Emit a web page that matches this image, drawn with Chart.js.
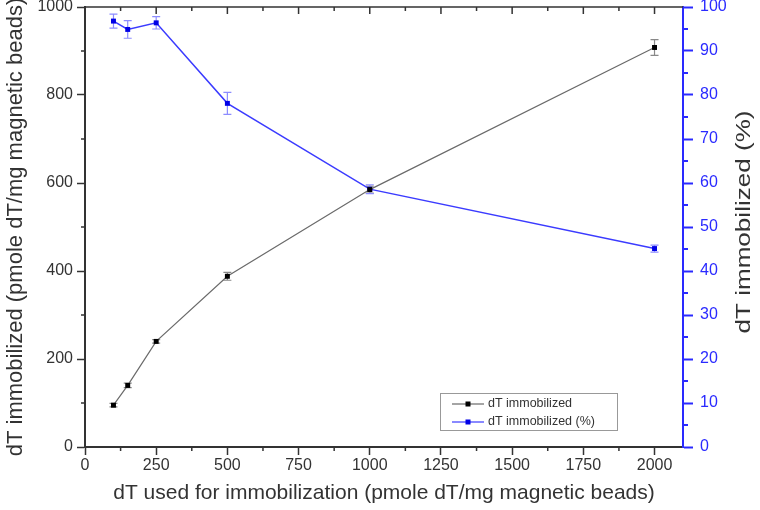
<!DOCTYPE html>
<html>
<head>
<meta charset="utf-8">
<script src="https://cdn.jsdelivr.net/npm/chart.js@4"></script>
<style>
  html, body { margin: 0; padding: 0; background: #fff; }
  #wrap { width: 760px; height: 510px; }
</style>
</head>
<body>
<div id="wrap"><canvas id="chart" width="760" height="510"></canvas></div>
<script>
// data
const doseUsed = [100, 150, 250, 500, 1000, 2000];
const amountImmobilized = [95, 140, 240, 388, 585, 908];
const amountErr = [4, 5, 4, 9, 8, 18];
const percentImmobilized = [96.8, 94.9, 96.4, 78.1, 58.6, 45.1];
const percentErr = [1.6, 2.0, 1.4, 2.5, 1.0, 0.8];

const xTicks = [0, 250, 500, 750, 1000, 1250, 1500, 1750, 2000];
const yTicks = [0, 200, 400, 600, 800, 1000];
const y1Ticks = [0, 10, 20, 30, 40, 50, 60, 70, 80, 90, 100];

const xTitle = 'dT used for immobilization (pmole dT/mg magnetic beads)';
const yTitle = 'dT immobilized (pmole dT/mg magnetic beads)';
const y1Title = 'dT immobilized (%)';
const seriesNames = ['dT immobilized', 'dT immobilized (%)'];

const FONT = "'Liberation Sans', Arial, sans-serif";
const BLUE = '#2a2aff';
const AXIS = '#333';

const toPoints = (xs, ys) => xs.map((x, i) => ({ x: x, y: ys[i] }));
const setTicks = vals => axis => { axis.ticks = vals.map(v => ({ value: v })); };
const plain = v => String(v);
const fitY = w => axis => {
    axis.width = w;
    axis.paddingTop = 0;
    axis.paddingBottom = 0;
};

// error bars, minor ticks, top frame, right title, inside legend
const extras = {
    id: 'extras',
    beforeDatasetsDraw(chart) {
        const ctx = chart.ctx;
        chart.data.datasets.forEach(ds => {
            if (!ds.errors) return;
            const xs = chart.scales.x;
            const ys = chart.scales[ds.yAxisID];
            ctx.save();
            ctx.strokeStyle = ds.errColor;
            ctx.lineWidth = 1.2;
            ds.data.forEach((p, i) => {
                const px = xs.getPixelForValue(p.x);
                const top = ys.getPixelForValue(p.y + ds.errors[i]);
                const bot = ys.getPixelForValue(p.y - ds.errors[i]);
                ctx.beginPath();
                ctx.moveTo(px, top); ctx.lineTo(px, bot);
                ctx.moveTo(px - 4, top); ctx.lineTo(px + 4, top);
                ctx.moveTo(px - 4, bot); ctx.lineTo(px + 4, bot);
                ctx.stroke();
            });
            ctx.restore();
        });
    },
    afterDraw(chart) {
        const ctx = chart.ctx;
        const a = chart.chartArea;
        const xs = chart.scales.x, ys = chart.scales.y, y1 = chart.scales.y1;
        ctx.save();

        // top frame + inward ticks (major and minor)
        ctx.strokeStyle = AXIS;
        ctx.lineWidth = 1.5;
        ctx.beginPath();
        ctx.moveTo(a.left, a.top); ctx.lineTo(a.right, a.top);
        xTicks.forEach(v => {
            const px = xs.getPixelForValue(v);
            ctx.moveTo(px, a.top); ctx.lineTo(px, a.top + 7);
            const m = xs.getPixelForValue(v + 125);
            if (m < a.right) { ctx.moveTo(m, a.top); ctx.lineTo(m, a.top + 4); }
        });
        // minor ticks bottom + left
        xTicks.forEach(v => {
            const m = xs.getPixelForValue(v + 125);
            if (m < a.right) { ctx.moveTo(m, a.bottom); ctx.lineTo(m, a.bottom + 4); }
        });
        yTicks.slice(0, -1).forEach(v => {
            const m = ys.getPixelForValue(v + 100);
            ctx.moveTo(a.left, m); ctx.lineTo(a.left - 4, m);
        });
        ctx.stroke();
        // minor ticks right (blue)
        ctx.strokeStyle = BLUE;
        ctx.lineWidth = 2;
        ctx.beginPath();
        y1Ticks.slice(0, -1).forEach(v => {
            const m = y1.getPixelForValue(v + 5);
            ctx.moveTo(a.right, m); ctx.lineTo(a.right + 5, m);
        });
        ctx.stroke();

        // right axis title, reading bottom to top, a little wider spaced
        ctx.fillStyle = AXIS;
        ctx.font = '20px ' + FONT;
        ctx.textAlign = 'center';
        ctx.textBaseline = 'middle';
        const tw = ctx.measureText(y1Title).width;
        ctx.translate(744, 222);
        ctx.rotate(-Math.PI / 2);
        ctx.scale(223 / tw, 1);
        ctx.fillText(y1Title, 0, 0);
        ctx.setTransform(1, 0, 0, 1, 0, 0);

        // legend box
        const bx = 440, by = 393, bw = 177, bh = 37;
        ctx.lineWidth = 1;
        ctx.strokeStyle = '#999';
        ctx.fillStyle = '#fff';
        ctx.fillRect(bx, by, bw, bh);
        ctx.strokeRect(bx + 0.5, by + 0.5, bw, bh);
        ctx.font = '12.5px ' + FONT;
        ctx.textAlign = 'left';
        ctx.textBaseline = 'middle';
        chart.data.datasets.forEach((ds, i) => {
            const ly = by + 11 + i * 18;
            ctx.strokeStyle = ds.borderColor;
            ctx.lineWidth = 1.2;
            ctx.beginPath();
            ctx.moveTo(bx + 12, ly); ctx.lineTo(bx + 44, ly);
            ctx.stroke();
            ctx.fillStyle = ds.pointBackgroundColor;
            ctx.fillRect(bx + 25.5, ly - 2.5, 5, 5);
            ctx.fillStyle = '#333';
            ctx.fillText(ds.label, bx + 48, ly);
        });
        ctx.restore();
    }
};

const tickFont = { family: FONT, size: 16 };

new Chart(document.getElementById('chart').getContext('2d'), {
    type: 'line',
    data: {
        datasets: [
            {
                label: seriesNames[0],
                data: toPoints(doseUsed, amountImmobilized),
                errors: amountErr,
                errColor: '#888',
                yAxisID: 'y',
                borderColor: '#6a6a6a',
                borderWidth: 1.2,
                pointStyle: 'rect',
                pointRadius: 3.5,
                pointBackgroundColor: '#000',
                pointBorderColor: '#000',
                pointBorderWidth: 0,
                fill: false
            },
            {
                label: seriesNames[1],
                data: toPoints(doseUsed, percentImmobilized),
                errors: percentErr,
                errColor: '#8c8cff',
                yAxisID: 'y1',
                borderColor: '#3b3bff',
                borderWidth: 1.5,
                pointStyle: 'rect',
                pointRadius: 3.5,
                pointBackgroundColor: '#0000e6',
                pointBorderColor: '#0000e6',
                pointBorderWidth: 0,
                fill: false
            }
        ]
    },
    options: {
        responsive: false,
        animation: false,
        layout: { padding: { top: 7 } },
        plugins: {
            legend: { display: false },
            tooltip: { enabled: false }
        },
        scales: {
            x: {
                type: 'linear',
                min: 0,
                max: 2100,
                afterBuildTicks: setTicks(xTicks),
                afterFit: axis => { axis.height = 63; },
                ticks: {
                    autoSkip: false,
                    maxRotation: 0,
                    color: AXIS,
                    font: tickFont,
                    padding: 1,
                    callback: plain
                },
                grid: {
                    drawOnChartArea: false,
                    tickLength: 8,
                    tickColor: AXIS,
                    tickWidth: 1.5
                },
                border: { color: AXIS, width: 2 },
                title: { display: true, text: xTitle, color: AXIS, font: { family: FONT, size: 21 }, padding: { top: 2 } }
            },
            y: {
                position: 'left',
                min: 0,
                max: 1000,
                afterBuildTicks: setTicks(yTicks),
                afterFit: fitY(85),
                ticks: {
                    autoSkip: false,
                    color: AXIS,
                    font: tickFont,
                    padding: 4,
                    callback: plain
                },
                grid: {
                    drawOnChartArea: false,
                    tickLength: 8,
                    tickColor: AXIS,
                    tickWidth: 1.5
                },
                border: { color: AXIS, width: 2 },
                title: { display: true, text: yTitle, color: AXIS, font: { family: FONT, size: 22 }, padding: { top: 3, bottom: 0 } }
            },
            y1: {
                position: 'right',
                min: 0,
                max: 100,
                afterBuildTicks: setTicks(y1Ticks),
                afterFit: fitY(77),
                ticks: {
                    autoSkip: false,
                    color: BLUE,
                    font: tickFont,
                    padding: 7,
                    callback: plain
                },
                grid: {
                    drawOnChartArea: false,
                    tickLength: 10,
                    tickColor: BLUE,
                    tickWidth: 2
                },
                border: { color: BLUE, width: 2 }
            }
        }
    },
    plugins: [extras]
});
</script>
</body>
</html>
